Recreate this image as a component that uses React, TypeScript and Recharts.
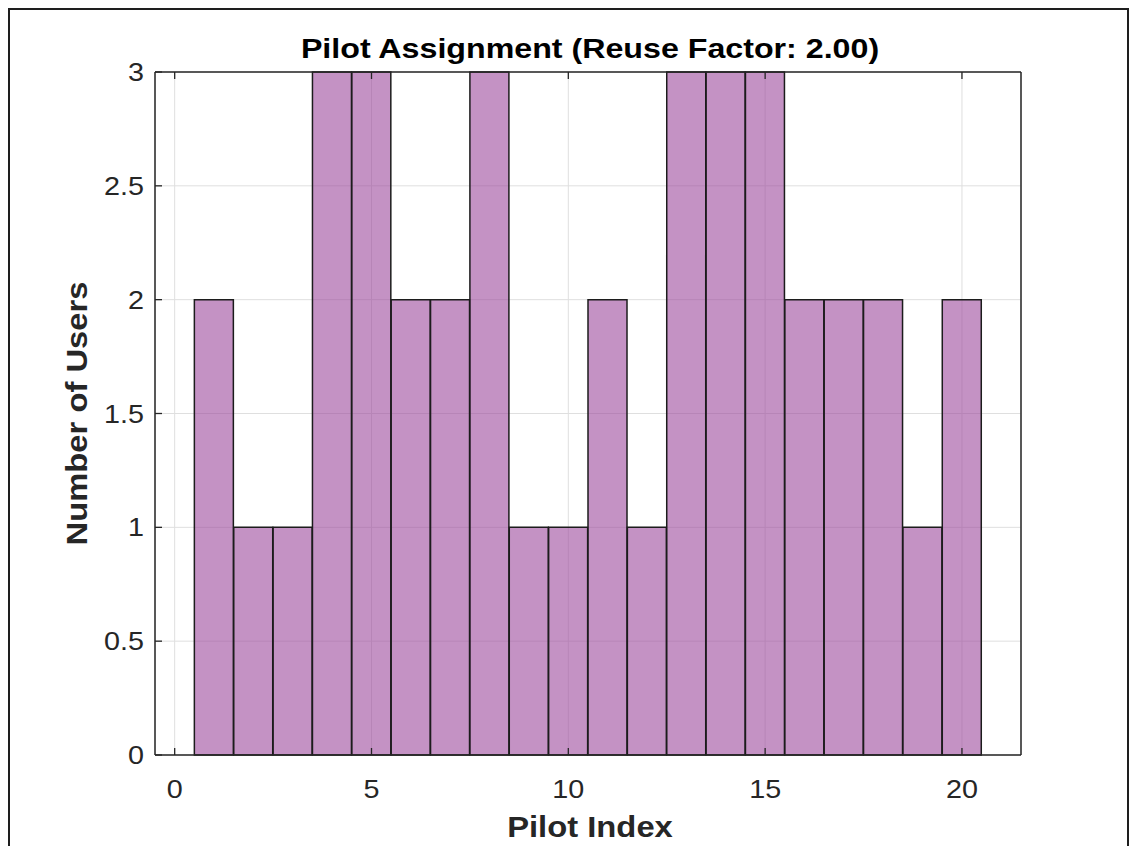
import React from "react";
import { BarChart, Bar, XAxis, YAxis, CartesianGrid, Label } from "recharts";

const pilotIndex = [1, 2, 3, 4, 5, 6, 7, 8, 9, 10, 11, 12, 13, 14, 15, 16, 17, 18, 19, 20];
const userCounts = [2, 1, 1, 3, 3, 2, 2, 3, 1, 1, 2, 1, 3, 3, 3, 2, 2, 2, 1, 2];
const xTicks = [0, 5, 10, 15, 20];
const yTicks = [0, 0.5, 1, 1.5, 2, 2.5, 3];
const xDomain: [number, number] = [-0.5, 21.5];
const yDomain: [number, number] = [0, 3];

const titleText = "Pilot Assignment (Reuse Factor: 2.00)";
const xLabelText = "Pilot Index";
const yLabelText = "Number of Users";

const data = pilotIndex.map((p, i) => ({ pilot: p, users: userCounts[i] }));

const FONT = "'Liberation Sans', Arial, Helvetica, sans-serif";
const AXIS_COLOR = "#262626";
const TICK_LEN = 7;
const SX = 1.15;
const X_TICK_MARGIN = 43;
const Y_TICK_MARGIN = 12;

const fmt = (v: number) => String(v);

const XTickBottom = (props: any) => {
  const { x, y, payload } = props;
  const axisY = y - X_TICK_MARGIN;
  return (
    <g>
      <line x1={x} y1={axisY} x2={x} y2={axisY - TICK_LEN} stroke={AXIS_COLOR} strokeWidth={1.3} />
      <text
        transform={`translate(${x},${y}) scale(${SX},1)`}
        textAnchor="middle"
        fontFamily={FONT}
        fontSize={25}
        fill={AXIS_COLOR}
      >
        {fmt(payload.value)}
      </text>
    </g>
  );
};

const XTickTop = (props: any) => {
  const { x, y } = props;
  return <line x1={x} y1={y} x2={x} y2={y + TICK_LEN} stroke={AXIS_COLOR} strokeWidth={1.3} />;
};

const YTickLeft = (props: any) => {
  const { x, y, payload } = props;
  const axisX = x + Y_TICK_MARGIN;
  return (
    <g>
      <line x1={axisX} y1={y} x2={axisX + TICK_LEN} y2={y} stroke={AXIS_COLOR} strokeWidth={1.3} />
      <text
        transform={`translate(${x + 1},${y + 9}) scale(${SX},1)`}
        textAnchor="end"
        fontFamily={FONT}
        fontSize={25}
        fill={AXIS_COLOR}
      >
        {fmt(payload.value)}
      </text>
    </g>
  );
};

const YTickRight = (props: any) => {
  const { x, y } = props;
  return <line x1={x} y1={y} x2={x - TICK_LEN} y2={y} stroke={AXIS_COLOR} strokeWidth={1.3} />;
};

const TitleContent = (props: any) => {
  const vb = props.viewBox || {};
  const cx = vb.x + vb.width / 2;
  const top = vb.y + vb.height;
  return (
    <text
      transform={`translate(${cx + 2},${top - 14}) scale(1.15,1)`}
      textAnchor="middle"
      fontFamily={FONT}
      fontWeight="bold"
      fontSize={28}
      fill="#000"
    >
      {titleText}
    </text>
  );
};

const XLabelContent = (props: any) => {
  const vb = props.viewBox || {};
  const cx = vb.x + vb.width / 2;
  return (
    <text
      transform={`translate(${cx + 2},${vb.y + 82}) scale(1.13,1)`}
      textAnchor="middle"
      fontFamily={FONT}
      fontWeight="bold"
      fontSize={29}
      fill={AXIS_COLOR}
    >
      {xLabelText}
    </text>
  );
};

const YLabelContent = (props: any) => {
  const vb = props.viewBox || {};
  const cy = vb.y + vb.height / 2;
  const axisX = vb.x + vb.width;
  return (
    <text
      transform={`translate(${axisX - 68},${cy}) rotate(-90) scale(1.13,1)`}
      textAnchor="middle"
      fontFamily={FONT}
      fontWeight="bold"
      fontSize={29}
      fill={AXIS_COLOR}
    >
      {yLabelText}
    </text>
  );
};

export default function App() {
  return (
    <div
      style={{
        width: 1130,
        height: 846,
        overflow: "hidden",
        boxSizing: "border-box",
        paddingLeft: 8,
        paddingTop: 8,
        background: "#fff",
      }}
    >
      <style>{`html, body { margin: 0; padding: 0; overflow: hidden; background: #fff; }`}</style>
      <div
        style={{
          border: "2px solid #1e1e1e",
          width: 1117,
          height: 840,
          background: "#fff",
        }}
      >
        <BarChart
          width={1117}
          height={840}
          data={data}
          margin={{ top: 61, left: 144, right: 105, bottom: 94 }}
          barCategoryGap={0}
          barGap={0}
        >
          <CartesianGrid stroke="#dfdfdf" strokeWidth={1} />
          <XAxis
            dataKey="pilot"
            type="number"
            domain={xDomain}
            ticks={xTicks}
            allowDataOverflow
            height={1}
            tickSize={0}
            tickMargin={X_TICK_MARGIN}
            tick={XTickBottom}
            axisLine={{ stroke: AXIS_COLOR, strokeWidth: 1.5 }}
            tickLine={false}
          >
            <Label content={XLabelContent} />
          </XAxis>
          <XAxis
            xAxisId="top"
            orientation="top"
            dataKey="pilot"
            type="number"
            domain={xDomain}
            ticks={xTicks}
            allowDataOverflow
            height={1}
            tickSize={0}
            tickMargin={0}
            tick={XTickTop}
            axisLine={{ stroke: AXIS_COLOR, strokeWidth: 1.5 }}
            tickLine={false}
          >
            <Label content={TitleContent} />
          </XAxis>
          <YAxis
            type="number"
            domain={yDomain}
            ticks={yTicks}
            width={1}
            tickSize={0}
            tickMargin={Y_TICK_MARGIN}
            tick={YTickLeft}
            axisLine={{ stroke: AXIS_COLOR, strokeWidth: 1.5 }}
            tickLine={false}
          >
            <Label content={YLabelContent} />
          </YAxis>
          <YAxis
            yAxisId="right"
            orientation="right"
            type="number"
            domain={yDomain}
            ticks={yTicks}
            width={1}
            tickSize={0}
            tickMargin={0}
            tick={YTickRight}
            axisLine={{ stroke: AXIS_COLOR, strokeWidth: 1.5 }}
            tickLine={false}
          />
          <Bar
            dataKey="users"
            fill="#9C4A9C"
            fillOpacity={0.6}
            stroke="#1c1c1c"
            strokeWidth={1.5}
            isAnimationActive={false}
          />
        </BarChart>
      </div>
    </div>
  );
}
